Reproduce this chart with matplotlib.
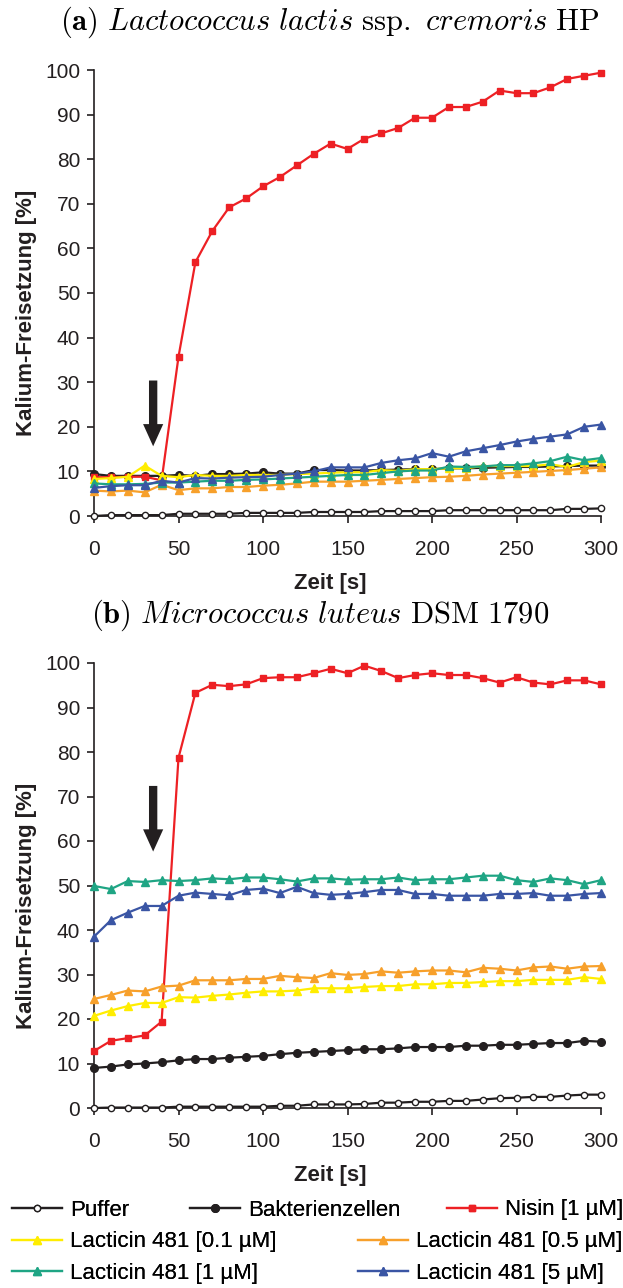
import matplotlib
matplotlib.use("Agg")
import matplotlib.pyplot as plt
from matplotlib.lines import Line2D

plt.rcParams["font.family"] = ["Liberation Sans", "DejaVu Sans"]
plt.rcParams["mathtext.fontset"] = "cm"

zeit = [0, 10, 20, 30, 40, 50, 60, 70, 80, 90, 100, 110, 120, 130, 140, 150,
        160, 170, 180, 190, 200, 210, 220, 230, 240, 250, 260, 270, 280, 290, 300]

# (a) Lactococcus lactis
a_puffer = [0.0, 0.2, 0.2, 0.2, 0.2, 0.5, 0.5, 0.5, 0.5, 0.7, 0.7, 0.7, 0.7, 0.9, 0.9, 0.9,
            0.9, 1.1, 1.1, 1.1, 1.1, 1.3, 1.3, 1.3, 1.3, 1.3, 1.3, 1.3, 1.6, 1.6, 1.7]
a_bakt = [9.4, 9.0, 9.0, 9.0, 9.0, 9.2, 9.0, 9.4, 9.4, 9.5, 9.8, 9.5, 9.5, 10.3, 10.3, 10.2,
          10.2, 10.3, 10.4, 10.5, 10.5, 10.7, 10.7, 10.8, 10.9, 11.0, 11.0, 11.1, 11.2, 11.3, 11.3]
a_nisin = [8.7, 8.7, 8.8, 8.8, 8.0, 35.7, 56.9, 63.9, 69.2, 71.2, 73.9, 76.0, 78.6, 81.2, 83.5, 82.3,
           84.6, 85.8, 87.0, 89.3, 89.3, 91.7, 91.7, 92.9, 95.4, 94.8, 94.8, 96.1, 98.0, 98.7, 99.4]
a_l01 = [8.3, 8.5, 8.8, 11.3, 9.0, 8.7, 9.2, 9.0, 9.0, 9.2, 9.2, 9.2, 9.4, 9.5, 9.7, 9.8,
         9.8, 10.3, 10.1, 10.5, 10.5, 10.7, 10.7, 11.2, 11.2, 11.2, 11.2, 11.6, 11.0, 12.1, 12.4]
a_l05 = [5.7, 5.5, 5.7, 5.3, 7.0, 5.8, 6.2, 6.2, 6.5, 6.5, 6.8, 7.0, 7.3, 7.7, 7.7, 7.7,
         7.9, 8.1, 8.3, 8.5, 8.7, 8.8, 9.0, 9.3, 9.5, 9.7, 9.9, 10.1, 10.3, 10.6, 10.9]
a_l1 = [7.3, 7.1, 7.1, 7.2, 7.5, 7.5, 7.7, 7.9, 7.9, 8.1, 8.2, 8.4, 8.6, 8.8, 9.0, 9.2,
        9.2, 9.6, 10.0, 10.2, 10.2, 11.1, 11.0, 11.1, 11.4, 11.4, 11.8, 12.3, 13.3, 12.5, 13.0]
a_l5 = [6.3, 6.7, 6.9, 6.9, 7.9, 7.5, 8.5, 8.4, 8.6, 8.7, 8.8, 9.2, 9.5, 10.0, 10.9, 10.9,
        10.9, 11.9, 12.5, 12.9, 14.1, 13.3, 14.5, 15.2, 15.9, 16.7, 17.3, 17.8, 18.3, 20.0, 20.5]

# (b) Micrococcus luteus
b_puffer = [0.0, 0.1, 0.1, 0.1, 0.1, 0.3, 0.3, 0.3, 0.3, 0.3, 0.3, 0.5, 0.5, 0.8, 0.8, 0.8,
            0.9, 1.2, 1.2, 1.4, 1.4, 1.6, 1.6, 1.9, 2.2, 2.3, 2.5, 2.5, 2.8, 3.0, 3.0]
b_bakt = [9.0, 9.3, 9.8, 10.0, 10.3, 10.7, 11.0, 11.0, 11.3, 11.5, 11.7, 12.1, 12.4, 12.6, 12.8, 13.0,
          13.2, 13.2, 13.4, 13.7, 13.7, 13.7, 14.0, 14.0, 14.2, 14.2, 14.4, 14.6, 14.6, 15.1, 14.9]
b_nisin = [12.8, 15.1, 15.7, 16.3, 19.4, 78.7, 93.3, 95.1, 94.8, 95.2, 96.6, 96.8, 96.8, 97.7, 98.7, 97.7,
           99.4, 98.2, 96.6, 97.3, 97.7, 97.3, 97.3, 96.6, 95.6, 96.8, 95.6, 95.2, 96.1, 96.1, 95.2]
b_l01 = [20.7, 21.9, 22.9, 23.6, 23.6, 24.9, 24.8, 25.2, 25.5, 25.9, 26.2, 26.2, 26.4, 26.9, 26.9, 26.9,
         27.2, 27.4, 27.4, 27.8, 27.8, 28.1, 28.1, 28.3, 28.5, 28.5, 28.8, 28.8, 28.8, 29.4, 29.0]
b_l05 = [24.5, 25.4, 26.4, 26.2, 27.3, 27.5, 28.7, 28.7, 28.7, 29.0, 29.0, 29.7, 29.4, 29.2, 30.3, 29.9,
         30.1, 30.7, 30.4, 30.7, 30.9, 30.9, 30.5, 31.5, 31.3, 30.9, 31.6, 31.8, 31.3, 31.8, 31.9]
b_l1 = [49.9, 49.2, 51.0, 50.8, 51.2, 51.0, 51.2, 51.6, 51.4, 51.8, 51.8, 51.4, 50.9, 51.6, 51.6, 51.3,
        51.4, 51.4, 51.8, 51.2, 51.4, 51.4, 51.8, 52.2, 52.2, 51.2, 50.8, 51.6, 51.2, 50.3, 51.2]
b_l5 = [38.5, 42.2, 43.9, 45.4, 45.4, 47.7, 48.4, 48.1, 47.8, 49.0, 49.3, 48.3, 49.7, 48.3, 47.9, 48.1,
        48.5, 49.0, 49.0, 48.1, 48.1, 47.7, 47.7, 47.7, 48.1, 48.1, 48.3, 47.7, 47.7, 48.1, 48.3]

labels = ["Puffer", "Bakterienzellen", "Nisin [1 µM]", "Lacticin 481 [0.1 µM]",
          "Lacticin 481 [0.5 µM]", "Lacticin 481 [1 µM]", "Lacticin 481 [5 µM]"]
colors = ["#231F20", "#231F20", "#ED2024", "#FFED00", "#F7A02B", "#1FA584", "#3A55A4"]
markers = ["o", "o", "s", "^", "^", "^", "^"]
msizes = [4.5, 5.5, 4.5, 6, 6, 6, 6]
arrow_x = 35
arrows = [(31, 15), (73, 57)]

titles = [r"$\mathbf{(a)}\ \mathit{Lactococcus\ lactis}\ \mathrm{ssp.}\ \mathit{cremoris}\ \mathrm{HP}$",
          r"$\mathbf{(b)}\ \mathit{Micrococcus\ luteus}\ \mathrm{DSM\ 1790}$"]

fig = plt.figure(figsize=(6.23, 12.88), dpi=100)
ax_a = fig.add_axes([94 / 623, 1 - 516 / 1288, 507 / 623, 446 / 1288])
ax_b = fig.add_axes([94 / 623, 1 - 1108 / 1288, 507 / 623, 445 / 1288])

panels = [(ax_a, [a_puffer, a_bakt, a_nisin, a_l01, a_l05, a_l1, a_l5]),
          (ax_b, [b_puffer, b_bakt, b_nisin, b_l01, b_l05, b_l1, b_l5])]

for k, (ax, series) in enumerate(panels):
    for i, vals in enumerate(series):
        face = "white" if i == 0 else colors[i]
        ax.plot(zeit, vals, color=colors[i], lw=1.6, marker=markers[i], ms=msizes[i],
                mfc=face, mec=colors[i], mew=1.0, clip_on=False, zorder=3 + i)
    ax.set_xlim(0, 300)
    ax.set_ylim(0, 100)
    ax.set_xticks([0, 50, 100, 150, 200, 250, 300])
    ax.set_yticks(range(0, 101, 10))
    for s in ["top", "right"]:
        ax.spines[s].set_visible(False)
    for s in ["left", "bottom"]:
        ax.spines[s].set_linewidth(1.2)
        ax.spines[s].set_color("#231F20")
    ax.tick_params(axis="both", labelsize=15, length=5, width=1.2, color="#231F20",
                   labelcolor="#231F20")
    ax.tick_params(axis="x", pad=12)
    ax.tick_params(axis="y", pad=5)
    ax.set_xlabel("Zeit [s]", fontsize=16, fontweight="bold", color="#231F20")
    ax.set_ylabel("Kalium-Freisetzung [%]", fontsize=16, fontweight="bold", color="#231F20")
    ax.xaxis.set_label_coords(0.466, -0.128)
    ax.yaxis.set_label_coords(-0.112, 0.455)
    y0, y1 = arrows[k]
    ax.annotate("", xy=(arrow_x, y1), xytext=(arrow_x, y0),
                arrowprops=dict(arrowstyle="simple,head_length=1.6,head_width=1.45,tail_width=0.6",
                                mutation_scale=10, color="#231F20", lw=0))

fig.text(330 / 623, 1 - 22 / 1288, titles[0], fontsize=22, ha="center", va="center")
fig.text(320 / 623, 1 - 615 / 1288, titles[1], fontsize=22, ha="center", va="center")

# legend below the lower panel: one small legend per entry (pixel anchors)
leg_pos = [(12, 1210), (190, 1210), (447, 1210),
           (12, 1242), (358, 1242), (12, 1273), (358, 1273)]
for i in range(7):
    face = "white" if i == 0 else colors[i]
    h = Line2D([], [], color=colors[i], lw=1.6, marker=markers[i], ms=msizes[i],
               mfc=face, mec=colors[i], mew=1.0)
    px, py = leg_pos[i]
    leg = fig.legend([h], [labels[i]], loc="center left",
                     bbox_to_anchor=(px / 623, 1 - py / 1288), frameon=False, fontsize=16,
                     handlelength=2.25, handletextpad=0.36, borderaxespad=0, borderpad=0.0)
    fig.add_artist(leg)

fig.savefig("out.png", dpi=100)
